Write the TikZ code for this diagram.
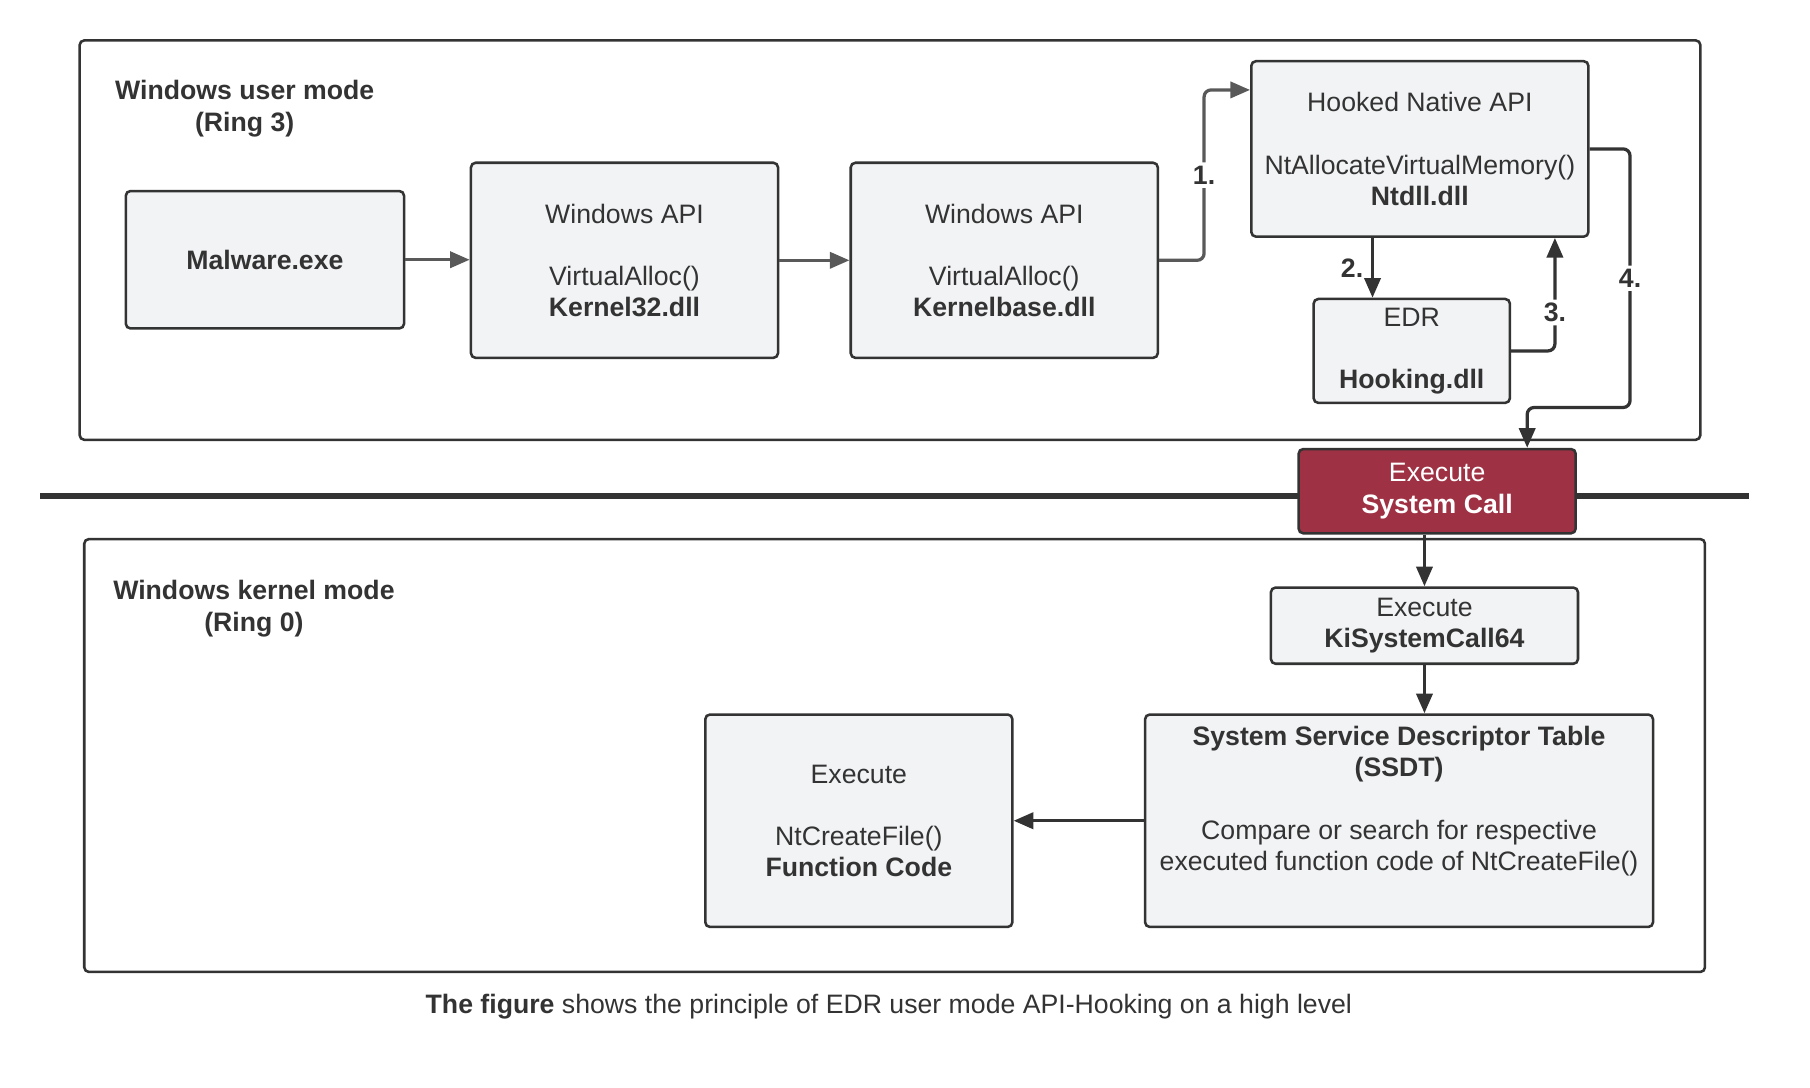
\documentclass[tikz,border=0pt]{standalone}
\usepackage{fontspec}
\setmainfont{Liberation Sans}
\usetikzlibrary{arrows.meta,calc}
\definecolor{boxfill}{RGB}{242,243,245}
\definecolor{edge}{RGB}{51,51,51}
\definecolor{greyedge}{RGB}{89,89,89}
\definecolor{callred}{RGB}{158,50,68}

\begin{document}
\begin{tikzpicture}[x=0.5pt,y=-0.5pt]
			\tikzset{>={Triangle[length=8.5pt,width=7pt]}}
			\tikzset{
				box/.style={draw=edge, line width=1.1pt, fill=boxfill, rounded corners=2pt,
					align=center, inner sep=0pt, text=edge, font=\fontsize{11.55}{13.5}\selectfont},
				frame/.style={draw=edge, line width=1.1pt, rounded corners=2pt},
				title/.style={align=center, text=edge, font=\fontsize{11.55}{13.8}\selectfont\bfseries},
				greyarrow/.style={->, draw=greyedge, line width=1.4pt, rounded corners=3pt},
				darkarrow/.style={->, draw=edge, line width=1.4pt, rounded corners=3pt},
				numlabel/.style={fill=white, inner sep=1.5pt, text=edge, font=\fontsize{11.55}{13.5}\selectfont\bfseries}
			}
			\useasboundingbox (0,0) rectangle (1568,942);

			% user mode / kernel mode
			\draw[frame] (69,35) rectangle (1473,381);
			\draw[frame] (73,467) rectangle (1477,842);
			\draw[edge, line width=2.5pt] (35,430) -- (1515,430);
			\node[title] (usertitle) at (212,94) {Windows user mode\\(Ring 3)};
			\node[title] (kerneltitle) at (220,527) {Windows kernel mode\\(Ring 0)};

			% boxes
			\node[box, minimum width=120.5pt, minimum height=59.5pt] (malware) at (229.5,225) {\textbf{Malware.exe}};
			\node[box, minimum width=133pt, minimum height=84.5pt] (kernel32) at (541,225.5)
				{Windows API\\[13.5pt]VirtualAlloc()\\\textbf{Kernel32.dll}};
			\node[box, minimum width=133pt, minimum height=84.5pt] (kernelbase) at (870,225.5)
				{Windows API\\[13.5pt]VirtualAlloc()\\\textbf{Kernelbase.dll}};
			\node[box, minimum width=146pt, minimum height=76pt] (ntdll) at (1230,129)
				{Hooked Native API\\[13.5pt]NtAllocateVirtualMemory()\\\textbf{Ntdll.dll}};
			\node[box, minimum width=85pt, minimum height=45pt] (edr) at (1223,304)
				{EDR\\[13.5pt]\textbf{Hooking.dll}};
			\node[box, fill=callred, text=white, minimum width=120pt, minimum height=36.5pt] (syscall) at (1245,425.5)
				{Execute\\\textbf{System Call}};
			\node[box, minimum width=133pt, minimum height=33pt] (kisys) at (1234,542)
				{Execute\\\textbf{KiSystemCall64}};
			\node[box, minimum width=220pt, minimum height=92pt] (ssdt) at (1212,711) {};
			\node[box, draw=none, fill=none] (ssdttext) at (1212,694)
				{\textbf{System Service Descriptor Table}\\\textbf{(SSDT)}\\[13.5pt]Compare or search for respective\\executed function code of NtCreateFile()};
			\node[box, minimum width=133pt, minimum height=92pt] (funccode) at (744,711)
				{Execute\\[13.5pt]NtCreateFile()\\\textbf{Function Code}};

			\coordinate (hookx) at (1189,0);
			\coordinate (backx) at (1347,0);
			\coordinate (sysx) at (1323,0);

			% connectors
			\draw[greyarrow] (malware.east) -- (malware.east -| kernel32.west);
			\draw[greyarrow] (kernel32.east) -- (kernelbase.west);
			\draw[greyarrow] (kernelbase.east) -- ++(39,0) |- ([yshift=-13pt]ntdll.north west)
				node[pos=0.25, numlabel] {1.};
			\draw[darkarrow] (ntdll.south -| hookx) -- (edr.north -| hookx)
				node[midway, left, text=edge, font=\fontsize{11.55}{13.5}\selectfont\bfseries] {2.};
			\draw[darkarrow] (edr.east) -| (ntdll.south -| backx)
				node[pos=0.67, numlabel] {3.};
			\draw[darkarrow] (ntdll.east) -- ++(35,0) -- ++(0,224) node[midway, numlabel] {4.}
				-| (syscall.north -| sysx);
			\draw[darkarrow] (syscall.south -| kisys.north) -- (kisys.north);
			\draw[darkarrow] (kisys.south) -- (kisys.south |- ssdt.north);
			\draw[darkarrow] (ssdt.west) -- (funccode.east);

			\node[text=edge, font=\fontsize{11.55}{13.5}\selectfont] (caption) at (770,872)
				{\textbf{The figure} shows the principle of EDR user mode API-Hooking on a high level};
\end{tikzpicture}
\end{document}
